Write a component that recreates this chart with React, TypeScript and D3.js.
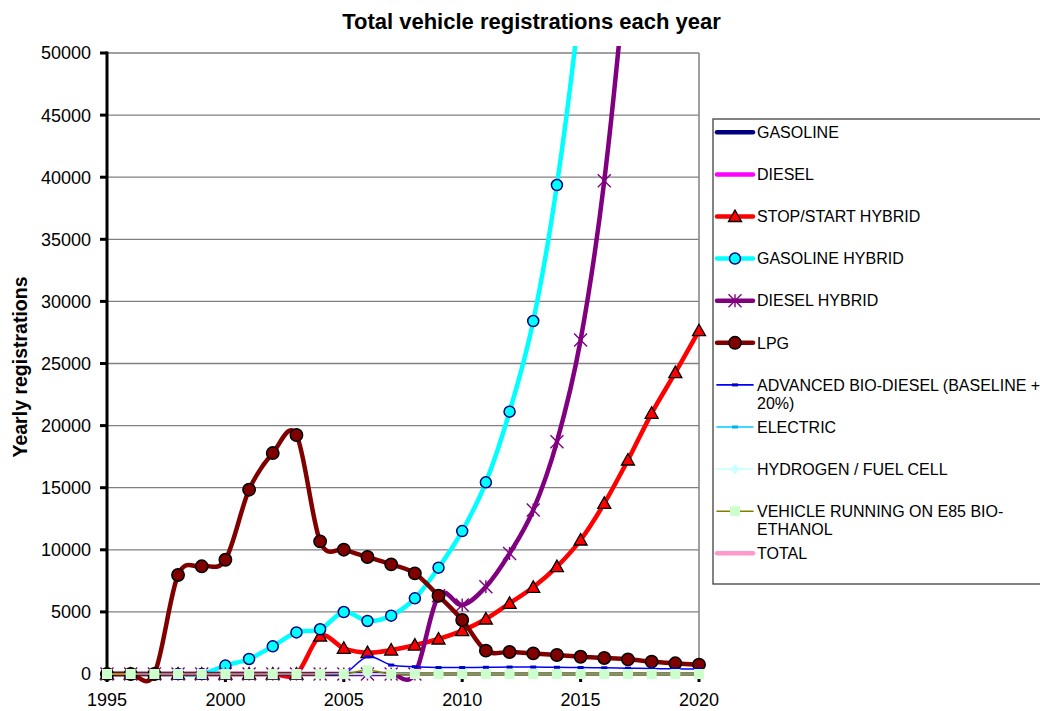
import React from "react";
import * as d3 from "d3";

// ---- data -------------------------------------------------------------
const years = d3.range(1995, 2021);

const stopStartHybrid = [0, 0, 0, 0, 0, 0, 0, 0, 0, 3050, 2070, 1720, 1930, 2330, 2820, 3490, 4430, 5690, 6980, 8640, 10790, 13740, 17230, 20990, 24260, 27640];
const gasolineHybrid: (number | null)[] = [0, 0, 0, 0, 0, 680, 1210, 2230, 3350, 3600, 4990, 4270, 4700, 6090, 8560, 11510, 15430, 21120, 28420, 39370, 54500, 75000, null, null, null, null];
const dieselHybrid: (number | null)[] = [0, 0, 0, 0, 0, 0, 0, 0, 0, 0, 0, 0, 0, 0, 6300, 5550, 7030, 9710, 13200, 18700, 26890, 39710, 58500, 82000, null, null];
const lpg = [0, 0, 0, 7970, 8670, 9200, 14840, 17790, 19240, 10680, 10010, 9420, 8830, 8100, 6300, 4350, 1880, 1770, 1660, 1530, 1390, 1290, 1180, 990, 860, 750];
const bioDiesel = [0, 0, 0, 0, 0, 0, 0, 0, 0, 0, 0, 1390, 720, 590, 520, 520, 540, 560, 560, 540, 520, 500, 470, 440, 420, 400];
const electric = [0, 0, 0, 0, 0, 0, 0, 0, 0, 0, 0, 0, 0, 0, 0, 0, 0, 0, 0, 0, 0, 0, 0, 0, 0, 0];
const hydrogen = [0, 0, 0, 0, 0, 0, 0, 0, 0, 0, 0, 0, 0, 0, 0, 0, 0, 0, 0, 0, 0, 0, 0, 0, 0, 0];
const e85 = [0, 0, 0, 0, 0, 0, 0, 0, 0, 0, 0, 300, 0, 0, 0, 0, 0, 0, 0, 0, 0, 0, 0, 0, 0, 0];

const yTicks = d3.range(0, 50001, 5000);
const xTicks = [1995, 2000, 2005, 2010, 2015, 2020];

type Marker = "none" | "triangle" | "circle" | "star" | "dash" | "diamond" | "square";
interface Series {
  name: string[];
  values: (number | null)[] | null;
  color: string;
  width: number;
  marker: Marker;
  fill?: string;
  stroke?: string;
}

const series: Series[] = [
  { name: ["GASOLINE"], values: null, color: "#000080", width: 4.5, marker: "none" },
  { name: ["DIESEL"], values: null, color: "#FF00FF", width: 4.5, marker: "none" },
  { name: ["STOP/START HYBRID"], values: stopStartHybrid, color: "#FF0000", width: 4.5, marker: "triangle", fill: "#FF0000", stroke: "#000000" },
  { name: ["GASOLINE HYBRID"], values: gasolineHybrid, color: "#00FFFF", width: 4.5, marker: "circle", fill: "#00FFFF", stroke: "#000080" },
  { name: ["DIESEL HYBRID"], values: dieselHybrid, color: "#800080", width: 4.5, marker: "star", stroke: "#800080" },
  { name: ["LPG"], values: lpg, color: "#800000", width: 4.5, marker: "circle", fill: "#800000", stroke: "#000000" },
  { name: ["ADVANCED BIO-DIESEL (BASELINE +", "20%)"], values: bioDiesel, color: "#0000FF", width: 1.5, marker: "dash", fill: "#0000CC" },
  { name: ["ELECTRIC"], values: electric, color: "#00CCFF", width: 1.5, marker: "dash", fill: "#00B0F0" },
  { name: ["HYDROGEN / FUEL CELL"], values: hydrogen, color: "#CCFFFF", width: 1.5, marker: "diamond", fill: "#CCFFFF" },
  { name: ["VEHICLE RUNNING ON E85 BIO-", "ETHANOL"], values: e85, color: "#808000", width: 1.5, marker: "square", fill: "#CCFFCC" },
  { name: ["TOTAL"], values: null, color: "#FF99CC", width: 4.5, marker: "none" },
];

// ---- layout -----------------------------------------------------------
const W = 1040;
const H = 711;
const plot = { left: 107, right: 699, top: 53, bottom: 674 };
const FONT = "'Liberation Sans', Arial, Helvetica, sans-serif";

const x = d3.scaleLinear().domain([1995, 2020]).range([plot.left, plot.right]);
const y = d3.scaleLinear().domain([0, 50000]).range([plot.bottom, plot.top]);

function MarkerShape({ s, cx, cy }: { s: Series; cx: number; cy: number }) {
  switch (s.marker) {
    case "triangle":
      return <path d={`M${cx},${cy - 6.5}L${cx + 6.5},${cy + 5}L${cx - 6.5},${cy + 5}Z`} fill={s.fill} stroke={s.stroke} strokeWidth={1.3} />;
    case "circle":
      return <circle cx={cx} cy={cy} r={s.color === "#800000" ? 6.2 : 5.5} fill={s.fill} stroke={s.stroke} strokeWidth={1.5} />;
    case "star": {
      const r = 6.5;
      return (
        <path
          d={`M${cx - r},${cy - r}L${cx + r},${cy + r}M${cx - r},${cy + r}L${cx + r},${cy - r}M${cx},${cy - r}L${cx},${cy + r}`}
          stroke={s.stroke}
          strokeWidth={1.4}
          fill="none"
        />
      );
    }
    case "dash":
      return <rect x={cx - 3} y={cy - 1.5} width={6} height={3} fill={s.fill} />;
    case "diamond":
      return <path d={`M${cx},${cy - 5}L${cx + 5},${cy}L${cx},${cy + 5}L${cx - 5},${cy}Z`} fill={s.fill} />;
    case "square":
      return <rect x={cx - 5} y={cy - 5} width={10} height={10} fill={s.fill} />;
    default:
      return null;
  }
}

export default function App() {
  const line = d3
    .line<[number, number | null]>()
    .defined((d) => d[1] !== null)
    .x((d) => x(d[0]))
    .y((d) => y(d[1] as number))
    .curve(d3.curveCardinal.tension(0));

  const plotted = series.filter((s) => s.values);
  const legendTop = 132.3;
  const legendStep = 42.1;

  return (
    <svg
      width={W}
      height={H}
      viewBox={`0 0 ${W} ${H}`}
      style={{ position: "absolute", left: 0, top: 0, background: "#fff" }}
      fontFamily={FONT}
    >
      <defs>
        <clipPath id="plotClip">
          <rect x={plot.left - 8} y={plot.top - 7} width={plot.right - plot.left + 16} height={plot.bottom - plot.top + 20} />
        </clipPath>
      </defs>
      <rect x={0} y={0} width={W} height={H} fill="#fff" />

      {/* title */}
      <text x={531.5} y={29.3} textAnchor="middle" fontSize={22} fontWeight="bold" fill="#000">
        Total vehicle registrations each year
      </text>

      {/* gridlines */}
      {yTicks.filter((t) => t > 0).map((t) => (
        <line key={t} x1={plot.left} x2={plot.right} y1={y(t)} y2={y(t)} stroke="#808080" strokeWidth={1.3} />
      ))}
      <line x1={plot.right} x2={plot.right} y1={plot.top} y2={plot.bottom} stroke="#808080" strokeWidth={1.5} />

      {/* y axis */}
      <line x1={plot.left} x2={plot.left} y1={plot.top - 1.5} y2={plot.bottom + 1.5} stroke="#000" strokeWidth={3} />
      {yTicks.map((t) => (
        <g key={t}>
          <line x1={plot.left - 7} x2={plot.left} y1={y(t)} y2={y(t)} stroke="#000" strokeWidth={3} />
          <text x={91} y={y(t)} dy="0.36em" textAnchor="end" fontSize={18} fill="#000">
            {t}
          </text>
        </g>
      ))}

      {/* x axis */}
      <line x1={plot.left} x2={plot.right} y1={plot.bottom} y2={plot.bottom} stroke="#000" strokeWidth={3} />
      {xTicks.map((t) => (
        <g key={t}>
          <line x1={x(t)} x2={x(t)} y1={plot.bottom} y2={plot.bottom + 8} stroke="#000" strokeWidth={3} />
          <text x={x(t)} y={706} textAnchor="middle" fontSize={18} fill="#000">
            {t}
          </text>
        </g>
      ))}

      {/* y axis title */}
      <text
        transform="translate(26.5,367) rotate(-90)"
        textAnchor="middle"
        fontSize={19.5}
        fontWeight="bold"
        fill="#000"
      >
        Yearly registrations
      </text>

      {/* series */}
      <g clipPath="url(#plotClip)">
        {plotted.map((s, i) => {
          const pts = years.map((yr, k) => [yr, (s.values as (number | null)[])[k]] as [number, number | null]);
          return (
            <g key={i}>
              <path d={line(pts) || ""} fill="none" stroke={s.color} strokeWidth={s.width} strokeLinejoin="round" strokeLinecap="round" />
              {pts
                .filter((p) => p[1] !== null && (p[1] as number) <= 50000)
                .map((p, k) => (
                  <MarkerShape key={k} s={s} cx={x(p[0])} cy={y(p[1] as number)} />
                ))}
            </g>
          );
        })}
      </g>

      {/* legend */}
      <rect x={713} y={119} width={340} height={465} fill="#fff" stroke="#404040" strokeWidth={1.3} />
      {series.map((s, i) => {
        const cy = legendTop + i * legendStep;
        return (
          <g key={i}>
            <line x1={717} x2={753} y1={cy} y2={cy} stroke={s.color} strokeWidth={s.width === 1.5 ? 1.6 : 4.5} strokeLinecap="round" />
            <MarkerShape s={s} cx={735} cy={cy} />
            {s.name.map((ln, k) => (
              <text key={k} x={757} y={cy + k * 18.5} dy="0.36em" fontSize={16} fill="#000">
                {ln}
              </text>
            ))}
          </g>
        );
      })}
    </svg>
  );
}
